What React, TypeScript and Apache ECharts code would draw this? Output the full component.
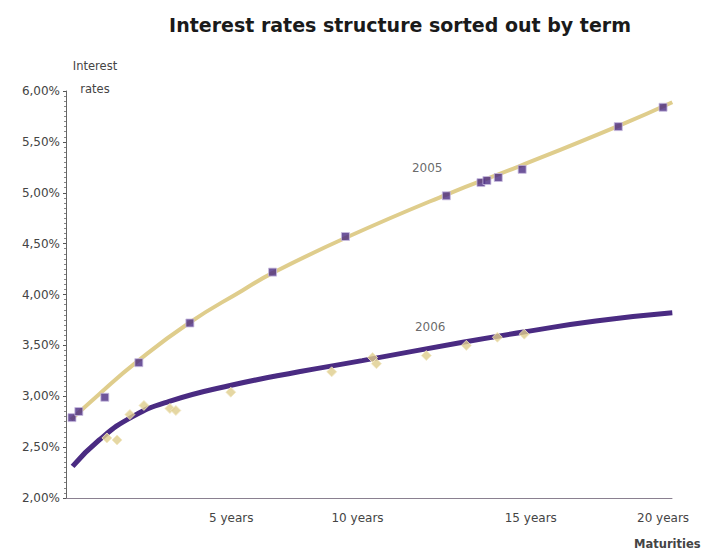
import React, { useEffect, useRef } from "react";
import * as echarts from "echarts";

// Observed yields by residual maturity (years, % p.a.)
const bonds2005Years = [0.2, 0.43, 1.3, 2.44, 4.15, 6.92, 9.36, 12.74, 13.9, 14.1, 14.48, 15.28, 18.5, 20.0];
const bonds2005Rates = [2.79, 2.85, 2.99, 3.33, 3.72, 4.22, 4.57, 4.97, 5.1, 5.12, 5.15, 5.23, 5.65, 5.84];

const bonds2006Years = [1.37, 1.71, 2.14, 2.61, 3.48, 3.68, 5.52, 8.9, 10.27, 10.4, 12.07, 13.41, 14.45, 15.35];
const bonds2006Rates = [2.59, 2.57, 2.82, 2.91, 2.88, 2.86, 3.04, 3.24, 3.38, 3.32, 3.4, 3.5, 3.58, 3.61];

// Fitted term-structure curves
const curve2005Years = [0.17, 1.11, 2.34, 4.12, 5.91, 6.91, 9.39, 12.73, 15.18, 18.53, 20.31];
const curve2005Rates = [2.77, 3.02, 3.33, 3.72, 4.04, 4.21, 4.56, 4.98, 5.26, 5.66, 5.89];

const curve2006Years = [0.22, 1.11, 2.23, 3.46, 5.57, 7.8, 9.92, 13.29, 15.52, 17.75, 20.31];
const curve2006Rates = [2.31, 2.57, 2.8, 2.95, 3.11, 3.24, 3.35, 3.53, 3.64, 3.74, 3.82];

// Curve captions
const curveNames = ["2005", "2006"];
const captionYears = [12.1, 12.2];
const captionRates = [5.24, 3.68];

const yearTicks = [5, 10, 15, 20];

const PURPLE = "#4a2b82";
const TAN = "#dfcd8c";
const FONT = "DejaVu Sans";

const zip = (xs: number[], ys: number[]) => xs.map((x, i) => [x, ys[i]]);

export default function App() {
  const ref = useRef<HTMLDivElement>(null);

  useEffect(() => {
    document.body.style.margin = "0";
    const chart = echarts.init(ref.current!, null, { renderer: "svg" });
    chart.setOption({
      animation: false,
      backgroundColor: "#ffffff",
      textStyle: { fontFamily: FONT },
      title: {
        text: "Interest rates structure sorted out by term",
        left: 395,
        top: 10,
        textAlign: "center",
        textStyle: { fontFamily: FONT, fontSize: 19, fontWeight: "bold", color: "#1a1a1a" },
      },
      grid: { left: 66, right: 40, top: 91, bottom: 55 },
      xAxis: {
        type: "value",
        min: 0,
        max: 20.3,
        interval: 5,
        splitLine: { show: false },
        axisTick: { show: false },
        axisLine: { lineStyle: { color: "#8a8090", width: 1 } },
        axisLabel: {
          margin: 14,
          color: "#444",
          fontSize: 12,
          fontFamily: FONT,
          showMaxLabel: false,
          formatter: (v: number) => {
            if (!yearTicks.includes(v)) return "";
            return `{y${v}|${v} years}`;
          },
          rich: {
            y5: { padding: [0, 0, 0, 32], fontSize: 12, color: "#444", fontFamily: FONT },
            y10: { padding: [0, 14, 0, 0], fontSize: 12, color: "#444", fontFamily: FONT },
            y15: { padding: [0, 0, 0, 34], fontSize: 12, color: "#444", fontFamily: FONT },
            y20: { padding: [0, 0, 0, 0], fontSize: 12, color: "#444", fontFamily: FONT },
          },
        },
      },
      yAxis: {
        type: "value",
        min: 2,
        max: 6,
        interval: 0.5,
        splitLine: { show: false },
        axisLine: { show: true, lineStyle: { color: "#666", width: 1 } },
        axisTick: { show: true, length: 3, lineStyle: { color: "#555" } },
        minorTick: { show: true, splitNumber: 10, length: 2, lineStyle: { color: "#888" } },
        axisLabel: {
          margin: 6,
          color: "#444",
          fontSize: 12,
          fontFamily: FONT,
          formatter: (v: number) => v.toFixed(2).replace(".", ",") + "%",
        },
      },
      graphic: [
        {
          type: "text",
          x: 95,
          y: 54,
          style: {
            text: "Interest\nrates",
            fontSize: 11.5,
            lineHeight: 23,
            align: "center",
            verticalAlign: "top",
            fill: "#444",
            fontFamily: FONT,
          },
        },
        {
          type: "text",
          left: 634,
          top: 538,
          style: { text: "Maturities", fontSize: 11.5, fontWeight: "bold", fill: "#444", fontFamily: FONT },
        },
      ],
      series: [
        {
          name: "2005 curve",
          type: "line",
          data: zip(curve2005Years, curve2005Rates),
          smooth: 0.5,
          showSymbol: false,
          lineStyle: { color: TAN, width: 4 },
          z: 2,
        },
        {
          name: "2005",
          type: "scatter",
          data: zip(bonds2005Years, bonds2005Rates),
          symbol: "rect",
          symbolSize: 8,
          itemStyle: { color: PURPLE, borderColor: "#c9bde0", borderWidth: 1 },
          z: 3,
        },
        {
          name: "2006 curve",
          type: "line",
          data: zip(curve2006Years, curve2006Rates),
          smooth: 0.5,
          showSymbol: false,
          lineStyle: { color: PURPLE, width: 5 },
          z: 2,
        },
        {
          name: "2006",
          type: "scatter",
          data: zip(bonds2006Years, bonds2006Rates),
          symbol: "diamond",
          symbolSize: 10,
          itemStyle: { color: TAN, borderColor: "#f2e8c4", borderWidth: 1 },
          z: 4,
        },
        {
          name: "captions",
          type: "scatter",
          symbolSize: 0,
          data: curveNames.map((n, i) => ({ name: n, value: [captionYears[i], captionRates[i]] })),
          label: {
            show: true,
            position: "inside",
            formatter: "{b}",
            fontSize: 12,
            color: "#444",
            fontFamily: FONT,
          },
          z: 5,
        },
      ],
    });
    return () => chart.dispose();
  }, []);

  return <div ref={ref} style={{ width: 712, height: 553 }} />;
}
